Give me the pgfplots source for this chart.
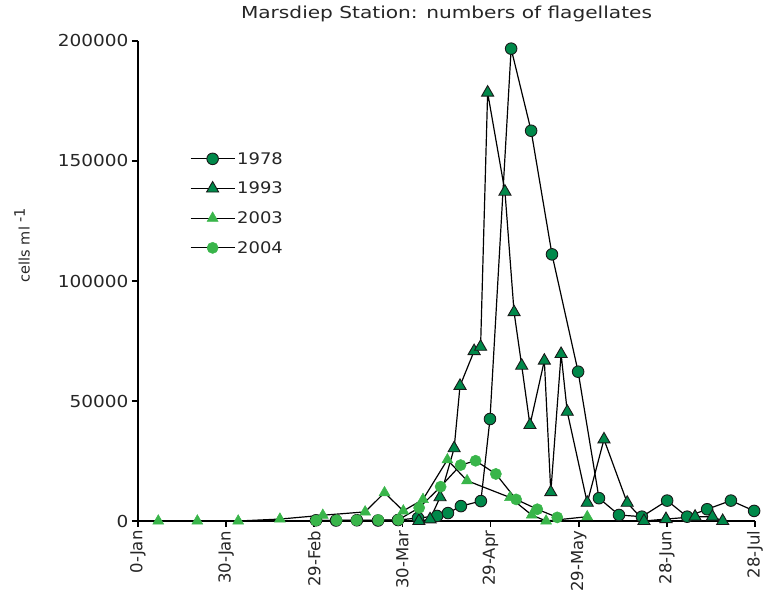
\documentclass[border=0pt]{standalone}
\usepackage{fontspec}
\setmainfont{DejaVu Sans}
\newfontfamily\vfont{DejaVu Sans}[FakeStretch=1.12]
\newfontfamily\tfont{DejaVu Sans}[FakeStretch=1.22]
\usepackage{pgfplots}
\pgfplotsset{compat=1.18}
\definecolor{dkgreen}{RGB}{0,137,74}
\definecolor{ltgreen}{RGB}{57,181,74}
\begin{document}
\begin{tikzpicture}
\path[use as bounding box] (-138pt,-72pt) rectangle (637pt,521pt);
\begin{axis}[
 scale only axis, width=617pt, height=480pt,
 xmin=0, xmax=210, ymin=0, ymax=200000,
 clip=false,
 axis x line*=bottom, axis y line*=left,
 axis line style={line width=2.2pt,-},
 xtick={0,30,...,210},
 xticklabels={0-Jan,30-Jan,29-Feb,30-Mar,29-Apr,29-May,28-Jun,28-Jul},
 ytick={0,50000,100000,150000,200000},
 scaled y ticks=false,
 /pgf/number format/assume math mode=true,
 yticklabel style={/pgf/number format/fixed,/pgf/number format/1000 sep={},font=\vfont\fontsize{16.5}{20}\selectfont,color=black!85},
 xticklabel style={rotate=90,anchor=east,font=\fontsize{16.5}{20}\selectfont,color=black!85},
 tick style={line width=1.8pt,black},
 tick align=outside, major tick length=6pt,
 legend cell align=left,
 legend style={draw=none,fill=none,font=\vfont\fontsize{16}{20}\selectfont,text=black!85,
   at={(axis description cs:0.084,0.773)},anchor=north west,row sep=12.3pt,inner sep=0pt},
 legend image code/.code={\draw[#1,mark repeat=2,mark phase=2] plot coordinates {(0pt,0pt)(22pt,0pt)(44pt,0pt)};},
]
\addplot[black,line width=1.2pt,mark=*,mark options={fill=dkgreen,draw=black!90,line width=0.9pt,mark size=5.8pt}] coordinates {
(60.6,300)(67.4,200)(74.5,300)(81.7,200)(88.5,400)(95.3,1250)(101.8,2100)(105.5,3300)(109.9,6200)(116.7,8300)(119.8,42500)(127.0,196800)(133.8,162600)(140.9,111100)(149.8,62200)(156.9,9500)(163.7,2500)(171.5,1800)(180.1,8500)(186.9,1800)(193.7,4900)(201.8,8500)(209.7,4200)};
\addlegendentry{1978}
\addplot[black,line width=1.2pt,mark=triangle*,mark options={fill=dkgreen,draw=black!90,line width=0.9pt,mark size=7pt}] coordinates {
(95.6,0)(99.4,700)(102.8,9900)(107.6,30300)(109.6,56300)(114.4,70800)(116.6,72600)(119.0,178500)(124.9,137200)(128.0,87000)(130.6,64700)(133.4,40000)(138.3,66800)(140.5,12000)(144.0,69600)(146.1,45500)(152.9,7600)(158.6,34000)(166.5,7600)(172.2,0)(179.7,800)(189.6,1800)(195.5,1800)(199.0,0)};
\addlegendentry{1993}
\addplot[black,line width=1.2pt,mark=triangle*,mark options={fill=ltgreen,draw=ltgreen,line width=0.5pt,mark size=6.3pt}] coordinates {
(6.9,0)(20.2,0)(34.1,0)(48.3,800)(62.9,2400)(77.3,3800)(83.9,11800)(90.3,4200)(97.0,9000)(105.3,25500)(112.0,16800)(126.6,9800)(134.0,2500)(138.9,0)(152.9,1800)};
\addlegendentry{2003}
\addplot[black,line width=1.2pt,mark=*,mark options={fill=ltgreen,draw=ltgreen,line width=0.5pt,mark size=5.6pt}] coordinates {
(60.6,200)(67.6,300)(74.4,300)(81.8,400)(88.6,500)(95.7,5500)(103.0,14300)(109.8,23300)(114.9,25100)(121.8,19600)(128.7,9000)(135.9,4900)(142.7,1500)};
\addlegendentry{2004}
\node[font=\tfont\fontsize{16.5}{20}\selectfont,text=black!85] at ([yshift=27pt]rel axis cs:0.5,1) {Marsdiep Station: numbers of flagellates};
\node[font=\fontsize{14.5}{17}\selectfont,text=black!85,rotate=90] at ([xshift=-116pt]rel axis cs:0,0.575) {cells ml \raisebox{0.6ex}{-1}};
\end{axis}
\end{tikzpicture}
\end{document}
